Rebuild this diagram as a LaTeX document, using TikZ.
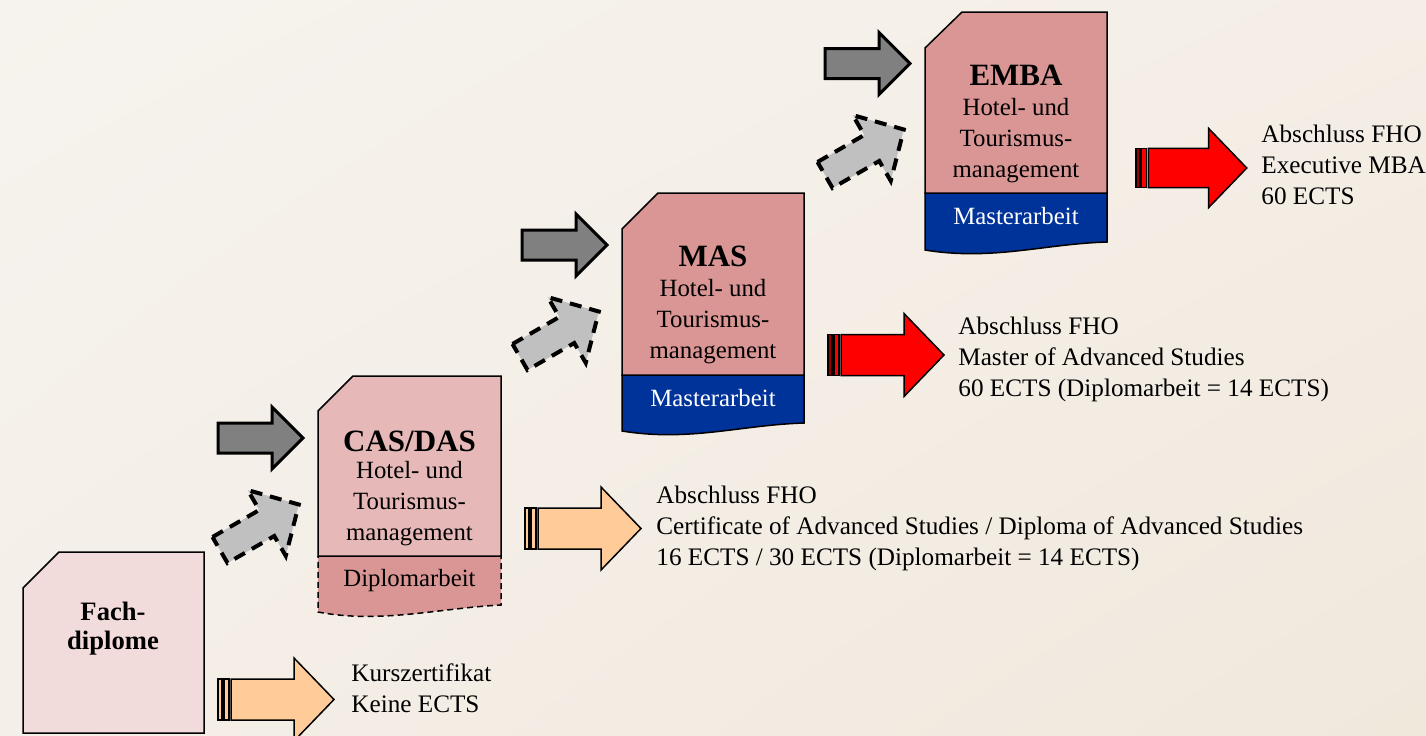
\documentclass[tikz,border=0pt]{standalone}
\usepackage{fontspec}
\setmainfont{Liberation Serif}
\usetikzlibrary{shadings}
\definecolor{bgul}{RGB}{246,243,238}
\definecolor{bgur}{RGB}{244,238,230}
\definecolor{bgll}{RGB}{244,239,232}
\definecolor{bglr}{RGB}{241,232,220}
\definecolor{fachpink}{RGB}{242,220,219}
\definecolor{caspink}{RGB}{230,185,184}
\definecolor{darkpink}{RGB}{217,150,148}
\definecolor{thesisblue}{RGB}{0,51,153}
\definecolor{arrowgrey}{RGB}{128,128,128}
\definecolor{lightgrey}{RGB}{192,192,192}
\definecolor{resorange}{RGB}{255,204,153}
\definecolor{resred}{RGB}{255,0,0}
\definecolor{resdarkred}{RGB}{150,0,0}
\begin{document}
\begin{tikzpicture}[x=0.50pt,y=0.50pt,yscale=-1,xscale=1,
  box/.style={draw=black,line width=0.75pt},
  greyarrow/.style={draw=black,line width=1.5pt,fill=arrowgrey},
  dasharrow/.style={draw=black,line width=2pt,fill=lightgrey,dash pattern=on 6pt off 4pt},
  striped/.style={draw=black,line width=0.75pt},
  boxtitle/.style={inner sep=0pt,font=\fontsize{15.5}{18}\selectfont\bfseries},
  boxbody/.style={inner sep=0pt,align=center,font=\fontsize{12.4}{15.5}\selectfont},
  restext/.style={inner sep=0pt,align=left,anchor=west,font=\fontsize{12.6}{15.5}\selectfont}]
\useasboundingbox (0,0) rectangle (1426,735);
%Shape: Background
\shade [upper left=bgul,upper right=bgur,lower left=bgll,lower right=bglr] (0,0) rectangle (1426,735);

%Shape: Fachdiplome
\draw [box,fill=fachpink] (23,588) -- (59,552) -- (204,552) -- (204,733) -- (23,733) -- cycle;
%Shape: CAS/DAS Diplomarbeit
\draw [box,dash pattern=on 3pt off 2pt,fill=darkpink] (318,556) -- (501,556) -- (501,605) .. controls (440,608) and (380,624) .. (318,612) -- cycle;
%Shape: CAS/DAS
\draw [box,fill=caspink] (318,411) -- (353,376) -- (501,376) -- (501,556) -- (318,556) -- cycle;
%Shape: MAS Masterarbeit
\draw [box,fill=thesisblue] (622,375) -- (804,375) -- (804,423) .. controls (740,425) and (690,442) .. (622,431) -- cycle;
%Shape: MAS
\draw [box,fill=darkpink] (622,229) -- (658,193) -- (804,193) -- (804,375) -- (622,375) -- cycle;
%Shape: EMBA Masterarbeit
\draw [box,fill=thesisblue] (925,193) -- (1107,193) -- (1107,242) .. controls (1043,244) and (993,261) .. (925,250) -- cycle;
%Shape: EMBA
\draw [box,fill=darkpink] (925,48) -- (962,12) -- (1107,12) -- (1107,193) -- (925,193) -- cycle;

%Shape: Right Arrows
\draw [greyarrow,shift={(218,438)}] (0,-15) -- (54,-15) -- (54,-31) -- (85,0) -- (54,31) -- (54,15) -- (0,15) -- cycle;
\draw [greyarrow,shift={(522,245)}] (0,-15) -- (54,-15) -- (54,-31) -- (85,0) -- (54,31) -- (54,15) -- (0,15) -- cycle;
\draw [greyarrow,shift={(825,63.5)}] (0,-15) -- (54,-15) -- (54,-31) -- (85,0) -- (54,31) -- (54,15) -- (0,15) -- cycle;
%Shape: Dashed Arrows
\draw [dasharrow,shift={(220,550)},rotate=-30] (0,-15) -- (54,-15) -- (54,-38) -- (91,0) -- (54,38) -- (54,15) -- (0,15) -- cycle;
\draw [dasharrow,shift={(520,357)},rotate=-30] (0,-15) -- (54,-15) -- (54,-38) -- (91,0) -- (54,38) -- (54,15) -- (0,15) -- cycle;
\draw [dasharrow,shift={(825,175)},rotate=-30] (0,-15) -- (54,-15) -- (54,-38) -- (91,0) -- (54,38) -- (54,15) -- (0,15) -- cycle;

%Shape: Striped Arrows
\begin{scope}[shift={(218,699.5)}]
\draw [striped,fill=resorange] (0,-20.5) rectangle (4,20.5);
\draw [striped,fill=resorange] (6,-20.5) rectangle (11,20.5);
\draw [striped,fill=resorange] (13,-20.5) -- (76,-20.5) -- (76,-41.5) -- (116,0) -- (76,41.5) -- (76,20.5) -- (13,20.5) -- cycle;
\end{scope}
\begin{scope}[shift={(525,528.5)}]
\draw [striped,fill=resorange] (0,-20.5) rectangle (4,20.5);
\draw [striped,fill=resorange] (6,-20.5) rectangle (11,20.5);
\draw [striped,fill=resorange] (13,-20.5) -- (76,-20.5) -- (76,-41.5) -- (116,0) -- (76,41.5) -- (76,20.5) -- (13,20.5) -- cycle;
\end{scope}
\begin{scope}[shift={(828,355)}]
\draw [striped,fill=resdarkred] (0,-20.5) rectangle (4,20.5);
\draw [striped,fill=resred] (6,-20.5) rectangle (11,20.5);
\draw [striped,fill=resred] (13,-20.5) -- (76,-20.5) -- (76,-41.5) -- (116,0) -- (76,41.5) -- (76,20.5) -- (13,20.5) -- cycle;
\end{scope}
\begin{scope}[shift={(1136,168)},scale=0.955]
\draw [striped,fill=resdarkred] (0,-20.5) rectangle (4,20.5);
\draw [striped,fill=resred] (6,-20.5) rectangle (11,20.5);
\draw [striped,fill=resred] (13,-20.5) -- (76,-20.5) -- (76,-41.5) -- (116,0) -- (76,41.5) -- (76,20.5) -- (13,20.5) -- cycle;
\end{scope}

% Text Node
\draw (113,629) node [inner sep=0pt,align=center,font=\fontsize{13.3}{14.5}\selectfont\bfseries] (fach) {Fach-\\diplome};
% Text Node
\draw (409.5,441) node [boxtitle] (castitle) {CAS/DAS};
\draw (409.5,504) node [boxbody] (casbody) {Hotel- und\\Tourismus-\\management};
\draw (409.5,581) node [boxbody] (casthesis) {Diplomarbeit};
% Text Node
\draw (713,256) node [boxtitle] (mastitle) {MAS};
\draw (713,322) node [boxbody] (masbody) {Hotel- und\\Tourismus-\\management};
\draw (713,398) node [boxbody,text=white] (masthesis) {Masterarbeit};
% Text Node
\draw (1016,75) node [boxtitle] (embatitle) {EMBA};
\draw (1016,141) node [boxbody] (embabody) {Hotel- und\\Tourismus-\\management};
\draw (1016,216) node [boxbody,text=white] (embathesis) {Masterarbeit};

% Text Node
\draw (351,688.5) node [restext] (fachres) {Kurszertifikat\\Keine ECTS};
\draw (656,528.5) node [restext] (casres) {Abschluss FHO\\Certificate of Advanced Studies / Diploma of Advanced Studies\\16 ECTS / 30 ECTS (Diplomarbeit = 14 ECTS)};
\draw (958,359) node [restext] (masres) {Abschluss FHO\\Master of Advanced Studies\\60 ECTS (Diplomarbeit = 14 ECTS)};
\draw (1261,165) node [restext] (embares) {Abschluss FHO\\Executive MBA\\60 ECTS};

\end{tikzpicture}
\end{document}
